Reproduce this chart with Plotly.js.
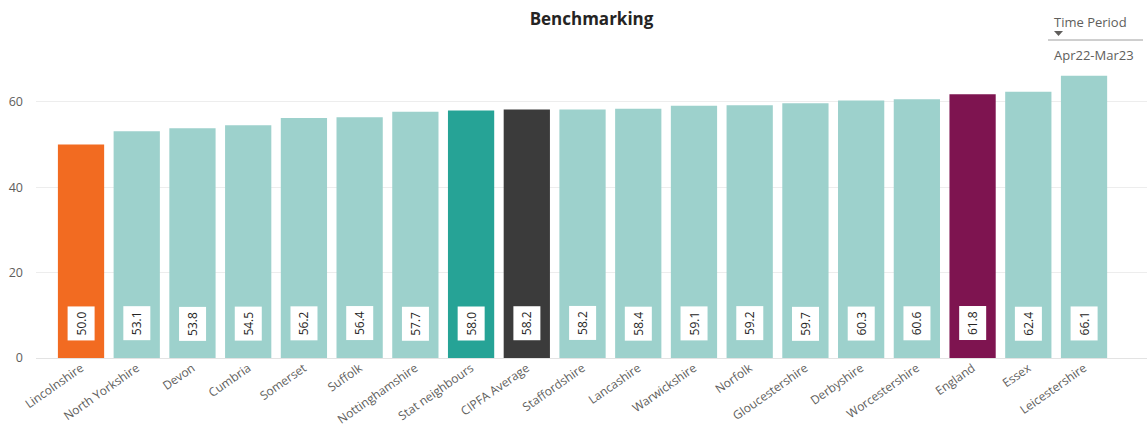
<!DOCTYPE html>
<html>
<head>
<meta charset="utf-8">
<script src="https://cdn.plot.ly/plotly-3.0.1.min.js"></script>
<style>html,body{margin:0;padding:0;background:#fff;}#chart{width:1147px;height:427px;}</style>
</head>
<body>
<div id="chart"></div>
<script>
const categories = ["Lincolnshire","North Yorkshire","Devon","Cumbria","Somerset","Suffolk","Nottinghamshire","Stat neighbours","CIPFA Average","Staffordshire","Lancashire","Warwickshire","Norfolk","Gloucestershire","Derbyshire","Worcestershire","England","Essex","Leicestershire"];
const values = [50.0,53.1,53.8,54.5,56.2,56.4,57.7,58.0,58.2,58.2,58.4,59.1,59.2,59.7,60.3,60.6,61.8,62.4,66.1];
const yTicks = [0,20,40,60];
const titleText = "Benchmarking";
const slicerTitle = "Time Period";
const slicerValue = "Apr22-Mar23";

const highlight = {"Lincolnshire":"#F26B21","Stat neighbours":"#26A396","CIPFA Average":"#3B3B3B","England":"#7E1450"};
const baseColor = "#9DD1CC";
const colors = categories.map(c => highlight[c] || baseColor);

const W = 1147, H = 427;
const L = 36, R = 0, T = 72, B = 69;
const pw = W - L - R, ph = H - T - B;
const px = x => (x - L) / pw;
const py = y => (H - B - y) / ph;

const font = "'Open Sans', 'Noto Sans', sans-serif";

const labelAnnotations = categories.map((c, i) => ({
  x: c, y: 8.1, xref: 'x', yref: 'y',
  text: values[i].toFixed(1), showarrow: false, textangle: -90,
  font: {family: font, size: 12, color: '#252423'},
  bgcolor: '#ffffff', borderpad: 5, borderwidth: 0,
  xanchor: 'center', yanchor: 'middle'
}));

const layout = {
  width: W, height: H,
  margin: {l: L, r: R, t: T, b: B, pad: 0},
  paper_bgcolor: '#fff', plot_bgcolor: '#fff',
  bargap: 0.17,
  showlegend: false,
  font: {family: font, color: '#605E5C'},
  title: {text: '<b>' + titleText + '</b>', x: 0.5, xanchor: 'center', xref: 'paper', y: 0.955, yanchor: 'middle', yref: 'container', font: {size: 17, color: '#252423', family: font}},
  xaxis: {
    type: 'category', range: [-0.808, 19.13], tickangle: -35,
    tickfont: {size: 12, color: '#605E5C', family: font},
    showgrid: false, zeroline: false, showline: false, ticks: '', fixedrange: true
  },
  yaxis: {
    range: [0, 67], tickvals: yTicks, ticktext: yTicks.map(String),
    tickfont: {size: 12.5, color: '#605E5C', family: font},
    gridcolor: '#EDEDED', gridwidth: 1, zeroline: true, zerolinecolor: '#E3E3E3', zerolinewidth: 1,
    showline: false, ticks: '', ticklabelstandoff: 12, fixedrange: true
  },
  annotations: labelAnnotations.concat([
    {xref: 'paper', yref: 'paper', x: px(1052), y: py(22), xanchor: 'left', yanchor: 'middle', text: slicerTitle, showarrow: false, font: {size: 13, color: '#605E5C', family: font}},
    {xref: 'paper', yref: 'paper', x: px(1052), y: py(55), xanchor: 'left', yanchor: 'middle', text: slicerValue, showarrow: false, font: {size: 13, color: '#605E5C', family: font}}
  ]),
  shapes: [
    {type: 'line', xref: 'paper', yref: 'paper', x0: px(1048), x1: px(1143), y0: py(40), y1: py(40), line: {color: '#9E9E9E', width: 1}},
    {type: 'path', xref: 'paper', yref: 'paper', path: 'M ' + px(1054) + ' ' + py(31) + ' L ' + px(1063) + ' ' + py(31) + ' L ' + px(1058.5) + ' ' + py(36) + ' Z', fillcolor: '#605E5C', line: {width: 0}}
  ]
};

const trace = {
  type: 'bar', x: categories, y: values,
  marker: {color: colors, line: {width: 0}},
  hoverinfo: 'x+y', textposition: 'none'
};

Plotly.newPlot('chart', [trace], layout, {displayModeBar: false, staticPlot: true});
</script>
</body>
</html>
